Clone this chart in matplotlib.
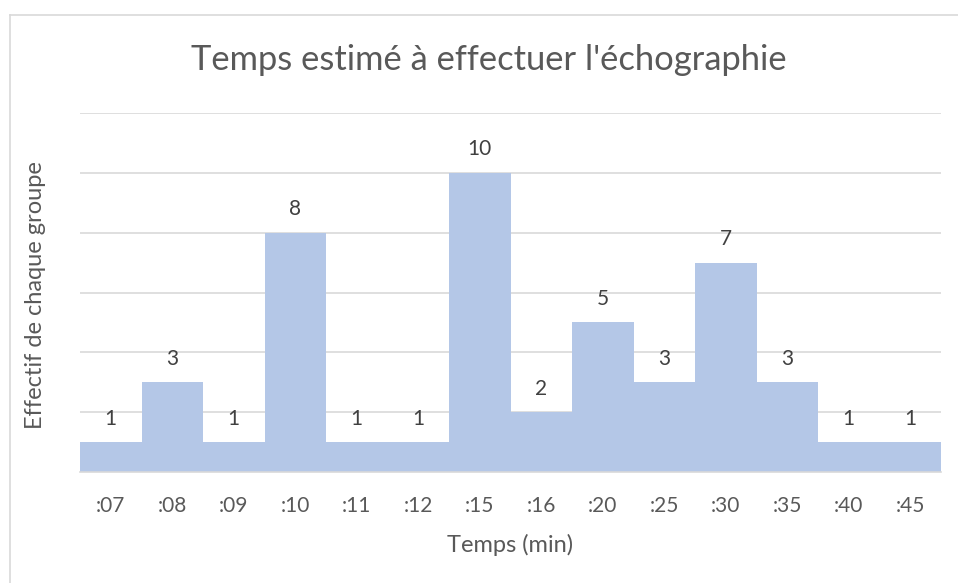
import matplotlib
matplotlib.use("Agg")
import matplotlib.pyplot as plt
from matplotlib.lines import Line2D

# data
categories = [":07", ":08", ":09", ":10", ":11", ":12", ":15", ":16",
              ":20", ":25", ":30", ":35", ":40", ":45"]
counts = [1, 3, 1, 8, 1, 1, 10, 2, 5, 3, 7, 3, 1, 1]

BAR = "#b4c7e7"
TXT = "#595959"
GRID = "#d9d9d9"

plt.rcParams['font.family'] = ['Lato', 'DejaVu Sans']

fig = plt.figure(figsize=(9.58, 5.83), dpi=100)
ax = fig.add_axes([80/958, 1 - 472/583, (941 - 80)/958, (472 - 113)/583])

x = range(len(categories))
ax.bar(x, counts, width=1.0, color=BAR, zorder=2)
for i, v in enumerate(counts):
    ax.text(i, v + 0.45, str(v), ha="center", va="bottom", fontsize=15,
            color="#404040", zorder=3)

ax.set_xlim(-0.5, len(categories) - 0.5)
ax.set_ylim(0, 12)
ax.set_yticks(range(2, 13, 2))
ax.yaxis.grid(True, color=GRID, linewidth=1.2, zorder=0)
ax.tick_params(axis="y", left=False, labelleft=False)
ax.set_xticks(list(x))
ax.set_xticklabels(categories, fontsize=15, color=TXT)
ax.tick_params(axis="x", length=0, pad=17)
for s in ["top", "right", "left"]:
    ax.spines[s].set_visible(False)
ax.spines["bottom"].set_color(GRID)
ax.spines["bottom"].set_linewidth(1.2)

fig.text(510/958, 1 - 545/583, "Temps (min)", ha="center", va="center",
         fontsize=17, color=TXT)
fig.text(36/958, 1 - 295/583, "Effectif de chaque groupe", ha="center", va="center",
         rotation=90, fontsize=17, color=TXT)
fig.text(489/958, 1 - 60/583, "Temps estimé à effectuer l'échographie",
         ha="center", va="center", fontsize=24.8, color=TXT)

# chart frame (top and left edges visible)
fig.add_artist(Line2D([10/958, 10/958], [0, 1 - 15/583], transform=fig.transFigure,
                      color=GRID, linewidth=1.2))
fig.add_artist(Line2D([10/958, 1], [1 - 15/583, 1 - 15/583], transform=fig.transFigure,
                      color=GRID, linewidth=1.2))

fig.savefig("out.png", dpi=100)
